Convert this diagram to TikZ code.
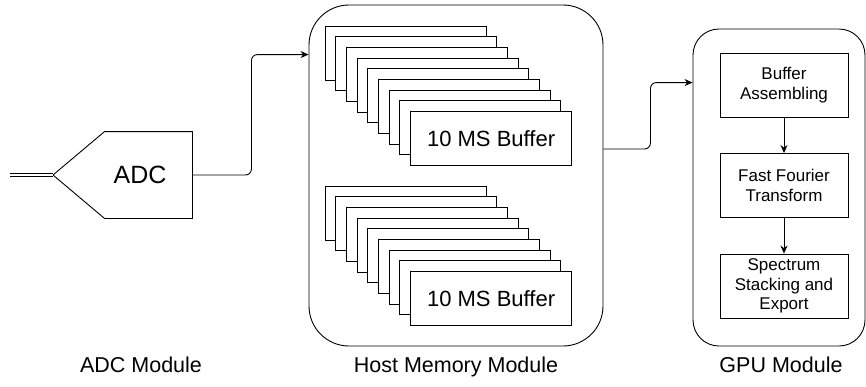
\documentclass[tikz,border=0pt]{standalone}
\usepackage{fontspec}
\setmainfont{Liberation Sans}
\usetikzlibrary{positioning,arrows.meta}

\begin{document}
\begin{tikzpicture}[x=1pt,y=-1pt,>={Stealth[length=8pt,width=7pt]},line width=0.9pt,
  module/.style={draw,rounded corners=#1,inner sep=0},
  bufbox/.style={draw,fill=white,minimum width=161pt,minimum height=54pt,inner sep=0,font=\fontsize{22}{26}\selectfont},
  stage/.style={draw,minimum width=128pt,minimum height=64pt,inner sep=0,align=center,font=\fontsize{17}{19.5}\selectfont},
  caption/.style={anchor=base,font=\fontsize{21.5}{26}\selectfont}]
\useasboundingbox (0,0) rectangle (866,386);

\node[module=40pt,minimum width=294pt,minimum height=341pt] (host) at (456,175.5) {};
\node[module=26pt,minimum width=172pt,minimum height=317pt] (gpu) at (779,187.5) {};

\node[minimum width=87pt,minimum height=86pt,inner sep=0] (adc) at (148.5,175) {};
\coordinate (adctip) at (53,175);
\coordinate (signal) at (10,175);
\draw (adc.north west) -- (adc.north east) -- (adc.south east) -- (adc.south west) -- (adctip) -- cycle;
\node[font=\fontsize{25}{30}\selectfont] (adclabel) at (140,175) {ADC};
\draw[double,double distance=2.2pt,line width=0.8pt] (signal) -- (adctip);

\foreach \s/\y in {top/53,bot/213}{
  \foreach \i in {0,...,7}
    \node[bufbox] (\s\i) at (405.5+10.7*\i,\y+10.7*\i) {};
  \node[bufbox] (\s8) at (491.1,\y+85.6) {10 MS Buffer};
}

\node[stage] (assemble) at (784,85) {Buffer\\Assembling};
\node[stage] (fft) at (784,185.5) {Fast Fourier\\Transform};
\node[stage] (stack) at (784,286) {Spectrum\\Stacking and\\Export};
\draw[->] (assemble) -- (fft);
\draw[->] (fft) -- (stack);

\coordinate (hostin) at ([yshift=-50pt]host.north west);
\coordinate (hostout) at ([yshift=26.5pt]host.east);
\coordinate (gpuin) at ([yshift=-54pt]gpu.north west);
\draw[->,rounded corners=6pt] (adc.east) -- ++(59,0) |- (hostin);
\draw[->,rounded corners=6pt] (hostout) -- ++(47,0) |- (gpuin);

\node[caption] (adccap) at (141,372) {ADC Module};
\node[caption] (hostcap) at (456,372) {Host Memory Module};
\node[caption] (gpucap) at (781,372) {GPU Module};
\end{tikzpicture}
\end{document}
